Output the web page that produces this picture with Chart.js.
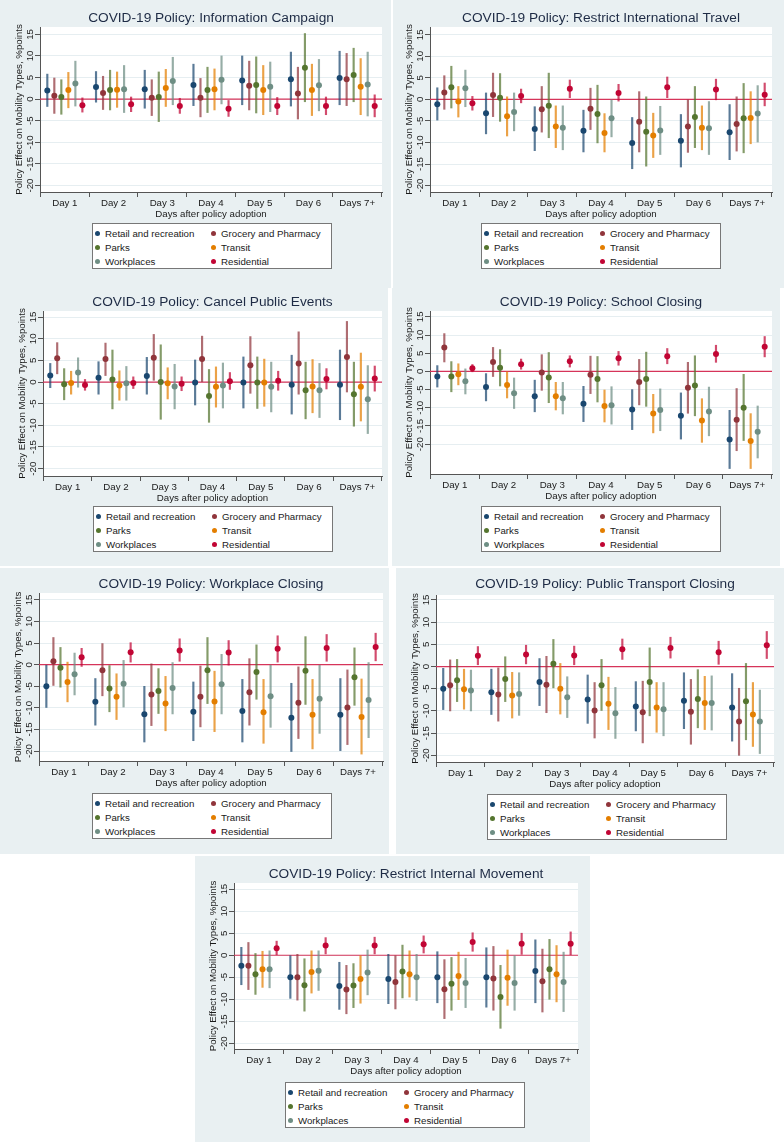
<!DOCTYPE html>
<html>
<head>
<meta charset="utf-8">
<script src="https://cdn.jsdelivr.net/npm/chart.js@4.4.1/dist/chart.umd.min.js"></script>
<style>
  body { margin: 0; background: #fff; width: 784px; height: 1142px; position: relative; overflow: hidden;
         font-family: "Liberation Sans", Arial, sans-serif; }
  .panel { position: absolute; background: #e9f0f2; }
  .panel canvas { position: absolute; left: 0; top: 0; }
  .legend { position: absolute; width: 240px; height: 46px; background: #fff; border: 1px solid #777;
            box-sizing: border-box; padding-top: 2px; display: grid; grid-template-columns: 116px 1fr;
            grid-auto-rows: 14px; font-size: 9.7px; color: #1a1a1a; }
  .legend span { display: flex; align-items: center; white-space: nowrap; }
  .legend i { display: inline-block; width: 5px; height: 5px; border-radius: 50%; margin: 0 5px 0 2px; }
</style>
</head>
<body>
<script>
// ---- data ----
const dayLabels = ['Day 1', 'Day 2', 'Day 3', 'Day 4', 'Day 5', 'Day 6', 'Days 7+'];
const dayTicks = [1, 2, 3, 4, 5, 6, 7];
const yTicks = [-20, -15, -10, -5, 0, 5, 10, 15];
const seriesNames = ['Retail and recreation', 'Grocery and Pharmacy', 'Parks', 'Transit', 'Workplaces', 'Residential'];
const policyTitles = [
  'COVID-19 Policy: Information Campaign',
  'COVID-19 Policy: Restrict International Travel',
  'COVID-19 Policy: Cancel Public Events',
  'COVID-19 Policy: School Closing',
  'COVID-19 Policy: Workplace Closing',
  'COVID-19 Policy: Public Transport Closing',
  'COVID-19 Policy: Restrict Internal Movement'
];

// rows: retail, grocery, parks, transit, workplaces, residential; columns: day 1..7+
const infoEst = [
  [2.0, 2.8, 2.3, 3.3, 4.3, 4.6, 4.9],
  [0.8, 1.4, 0.3, 0.3, 3.1, 1.3, 4.6],
  [0.5, 2.1, 0.5, 2.1, 3.3, 7.3, 5.6],
  [2.1, 2.2, 2.6, 2.3, 2.1, 2.1, 2.9],
  [3.6, 2.3, 4.2, 4.5, 2.9, 3.2, 3.4],
  [-1.4, -1.2, -1.6, -2.2, -1.6, -1.6, -1.6]
];
const infoLo = [
  [-1.7, -0.7, -2.1, -1.5, -1.3, -1.6, -1.3],
  [-3.3, -2.4, -3.8, -4.1, -2.5, -4.6, -1.5],
  [-3.5, -2.5, -5.2, -3.1, -3.2, -0.6, -0.6],
  [-2.0, -1.9, -1.7, -2.5, -3.6, -3.8, -3.6],
  [-1.6, -3.1, -1.3, -1.1, -2.9, -2.7, -3.9],
  [-3.0, -2.9, -3.3, -4.0, -3.6, -3.6, -4.1]
];
const infoHi = [
  [5.8, 6.4, 6.7, 8.1, 10.0, 10.9, 11.1],
  [4.9, 5.3, 4.5, 4.8, 8.8, 7.4, 10.6],
  [4.5, 6.7, 6.3, 7.4, 9.8, 15.2, 11.8],
  [6.2, 6.3, 6.9, 7.0, 7.8, 8.1, 9.4],
  [8.8, 7.8, 9.7, 10.0, 8.6, 9.2, 10.9],
  [0.3, 0.5, 0.2, -0.3, 0.4, 0.5, 1.0]
];

const travelEst = [
  [-1.1, -3.2, -6.9, -7.3, -10.1, -9.6, -7.6],
  [1.6, 1.0, -2.3, -2.2, -5.2, -6.3, -5.7],
  [2.8, 0.4, -1.5, -3.4, -7.5, -4.1, -4.4],
  [-0.5, -3.9, -6.3, -7.8, -8.4, -6.6, -4.3],
  [2.6, -2.9, -6.6, -4.4, -7.2, -6.7, -3.3],
  [-0.9, 0.8, 2.5, 1.5, 2.8, 2.3, 1.1]
];
const travelLo = [
  [-4.8, -8.0, -11.9, -12.2, -16.1, -15.7, -14.0],
  [-2.3, -4.0, -7.6, -7.0, -12.2, -12.3, -12.0],
  [-2.0, -5.1, -8.9, -10.1, -15.5, -11.2, -12.4],
  [-4.1, -8.5, -11.2, -12.2, -13.5, -11.7, -10.3],
  [-1.7, -7.3, -11.7, -8.7, -12.8, -12.8, -9.9],
  [-2.5, -0.8, 0.4, -0.4, 0.4, -0.1, -1.5]
];
const travelHi = [
  [2.7, 1.5, -1.7, -2.5, -4.2, -3.5, -1.2],
  [5.5, 6.1, 3.0, 2.6, 1.8, 0.0, 0.6],
  [7.7, 6.0, 6.1, 3.3, 0.6, 3.0, 3.7],
  [3.0, 0.6, -1.5, -3.3, -3.2, -1.5, 1.8],
  [6.8, 1.5, -1.5, 0.0, -1.6, -0.5, 3.2],
  [0.7, 2.4, 4.5, 3.5, 5.2, 4.7, 3.8]
];

const eventsEst = [
  [1.5, 1.0, 1.4, -0.1, -0.1, -0.6, -0.6],
  [5.5, 5.3, 5.6, 5.3, 3.9, 4.3, 5.8],
  [-0.5, 0.6, 0.0, -3.2, -0.1, -1.9, -2.8],
  [-0.2, -0.8, -0.3, -1.1, -0.1, -1.0, -1.1],
  [2.2, -0.3, -1.0, -0.8, -1.1, -1.9, -4.0],
  [-0.7, -0.2, -0.4, 0.2, 0.3, 0.7, 0.8]
];
const eventsLo = [
  [-1.3, -2.8, -2.8, -5.3, -6.0, -7.4, -8.7],
  [1.9, 1.5, 0.4, 0.1, -2.6, -2.8, -2.3],
  [-4.1, -6.2, -8.6, -9.3, -6.1, -8.5, -10.2],
  [-2.8, -4.2, -3.9, -5.8, -5.6, -7.1, -9.0],
  [-1.2, -4.2, -6.2, -6.0, -6.9, -8.2, -11.9],
  [-1.9, -1.5, -2.0, -1.7, -1.9, -1.6, -2.1]
];
const eventsHi = [
  [4.3, 4.7, 5.7, 5.1, 5.8, 6.2, 7.4],
  [9.1, 9.0, 11.0, 10.6, 10.5, 11.6, 14.0],
  [3.1, 7.4, 8.6, 2.9, 5.8, 4.6, 4.6],
  [2.5, 2.6, 3.3, 3.5, 5.3, 5.2, 6.7],
  [5.6, 3.6, 4.1, 4.4, 4.6, 4.3, 3.8],
  [0.6, 1.2, 1.2, 2.2, 2.5, 3.1, 3.7]
];

const schoolEst = [
  [-1.4, -4.3, -6.8, -8.9, -10.5, -12.2, -18.7],
  [6.6, 2.6, -0.3, -0.9, -2.9, -4.5, -13.3],
  [-1.4, 1.0, -1.7, -2.1, -2.1, -3.9, -10.0],
  [-0.8, -3.7, -6.8, -9.5, -11.6, -13.5, -19.1],
  [-2.7, -6.0, -7.4, -9.3, -10.6, -11.0, -16.6],
  [0.9, 2.0, 2.8, 3.6, 4.2, 4.8, 6.8]
];
const schoolLo = [
  [-4.3, -8.1, -11.1, -13.8, -16.0, -18.6, -26.7],
  [2.6, -1.4, -5.2, -6.1, -9.2, -11.5, -21.8],
  [-5.6, -4.0, -8.6, -8.4, -9.6, -12.2, -19.0],
  [-3.7, -7.3, -10.6, -13.9, -16.9, -19.5, -26.7],
  [-6.2, -10.2, -11.7, -14.5, -16.3, -17.7, -23.8],
  [-0.1, 0.6, 1.2, 1.7, 2.1, 2.5, 4.0]
];
const schoolHi = [
  [1.6, -0.6, -2.4, -4.1, -5.0, -5.9, -10.7],
  [10.4, 6.6, 4.6, 4.2, 3.3, 2.5, -4.7],
  [2.7, 6.0, 5.2, 4.1, 5.3, 4.3, -0.8],
  [2.1, -0.1, -3.0, -5.1, -6.3, -7.5, -11.6],
  [0.7, -1.8, -3.0, -4.2, -4.8, -4.3, -9.5],
  [1.9, 3.4, 4.3, 5.5, 6.3, 7.2, 9.6]
];

const workEst = [
  [-5.0, -8.6, -11.5, -10.9, -10.7, -12.3, -11.6],
  [0.8, -1.3, -6.9, -7.4, -6.4, -8.8, -9.9],
  [-0.7, -5.5, -6.1, -1.3, -1.7, -1.4, -2.9],
  [-4.0, -7.4, -9.0, -8.5, -11.0, -11.6, -12.1],
  [-2.2, -4.4, -5.4, -4.5, -7.3, -7.9, -8.2],
  [1.7, 2.9, 3.3, 2.8, 3.7, 3.9, 4.1]
];
const workLo = [
  [-9.9, -14.0, -17.9, -17.6, -17.9, -20.1, -19.9],
  [-4.8, -7.2, -14.1, -14.4, -14.0, -17.1, -18.5],
  [-5.2, -10.9, -11.3, -9.0, -8.0, -9.2, -9.4],
  [-8.6, -12.7, -15.3, -15.5, -18.2, -19.5, -20.7],
  [-7.0, -9.8, -11.4, -11.4, -14.5, -15.9, -16.9],
  [-0.4, 0.6, 0.8, -0.1, 0.6, 0.8, 0.9]
];
const workHi = [
  [0.0, -3.2, -5.0, -4.0, -3.4, -4.3, -3.2],
  [6.3, 4.9, 0.2, -0.3, 1.4, -0.5, -1.2],
  [4.0, -0.2, -0.9, 6.3, 4.6, 6.5, 3.9],
  [0.6, -2.1, -2.7, -1.5, -3.4, -3.4, -3.3],
  [2.7, 1.0, 0.5, 2.4, -0.1, 0.0, 0.5],
  [3.8, 5.1, 6.0, 5.6, 6.7, 7.0, 7.3]
];

const transportEst = [
  [-5.0, -5.8, -3.5, -7.4, -9.0, -7.7, -9.2],
  [-4.2, -6.3, -4.1, -9.9, -10.3, -10.2, -12.4],
  [-3.1, -2.8, 0.6, -4.2, -3.5, -7.3, -7.8],
  [-5.1, -6.5, -5.0, -8.4, -9.2, -8.2, -10.8],
  [-5.4, -6.2, -6.9, -10.5, -9.6, -8.2, -12.4],
  [2.4, 2.7, 2.5, 3.9, 4.2, 3.2, 4.8]
];
const transportLo = [
  [-9.7, -10.8, -8.8, -12.8, -14.5, -14.0, -16.8],
  [-10.0, -12.3, -10.4, -16.1, -17.2, -17.5, -20.0],
  [-7.9, -7.9, -4.8, -9.9, -11.1, -13.8, -16.5],
  [-9.6, -11.6, -10.7, -14.2, -14.8, -14.2, -18.0],
  [-10.0, -11.0, -11.5, -16.2, -15.6, -14.3, -19.6],
  [0.4, 0.6, 0.4, 1.6, 1.9, 0.5, 1.8]
];
const transportHi = [
  [-0.4, -0.6, 1.8, -1.9, -3.4, -1.4, -1.6],
  [1.5, -0.3, 2.3, -3.6, -3.3, -2.9, -4.9],
  [1.6, 2.2, 6.1, 1.6, 4.2, -0.7, 0.7],
  [-0.6, -1.3, 0.7, -2.4, -3.6, -2.2, -3.6],
  [-0.8, -1.4, -2.3, -4.7, -3.6, -2.1, -5.3],
  [4.5, 4.8, 4.6, 6.2, 6.6, 5.7, 7.9]
];

const internalEst = [
  [-2.4, -5.0, -7.0, -5.4, -5.0, -5.0, -3.6],
  [-2.4, -5.0, -7.8, -6.1, -7.7, -5.3, -5.9],
  [-4.3, -6.8, -6.9, -3.7, -6.5, -9.5, -3.2],
  [-3.2, -3.8, -5.4, -4.3, -4.7, -5.1, -4.3],
  [-3.2, -3.5, -3.9, -5.0, -6.3, -6.3, -6.1],
  [1.6, 2.2, 2.2, 2.5, 3.0, 2.6, 2.6]
];
const internalLo = [
  [-6.7, -9.8, -12.3, -11.0, -10.8, -11.8, -10.8],
  [-7.8, -10.2, -13.3, -12.2, -14.4, -12.5, -12.9],
  [-8.9, -12.7, -11.9, -9.7, -12.5, -16.6, -10.0],
  [-7.3, -8.6, -10.9, -9.5, -10.1, -11.4, -10.6],
  [-7.4, -8.0, -9.0, -10.3, -11.9, -12.5, -12.8],
  [0.0, 0.3, 0.3, 0.5, 0.9, 0.2, 0.0]
];
const internalHi = [
  [1.8, -0.1, -1.6, 0.2, 0.8, 1.7, 3.5],
  [2.9, 0.2, -2.3, 0.0, -1.0, 2.0, 1.4],
  [0.4, -0.8, -1.9, 2.3, -0.5, -2.3, 3.6],
  [0.9, 1.0, 0.0, 1.0, 0.7, 1.2, 2.2],
  [1.0, 1.0, 1.2, 0.2, -0.7, 0.0, 0.7],
  [3.2, 4.0, 4.1, 4.4, 5.1, 5.0, 5.3]
];

// ---- styling / layout ----
const seriesColors = ['#1a476f', '#90353b', '#55752f', '#e37e00', '#6e8e84', '#c10534'];
const seriesOffsets = [-0.36, -0.216, -0.072, 0.072, 0.216, 0.36];
const zeroColor = '#d6345a';
const FONT = '"Liberation Sans", Arial, sans-serif';
const X_AXIS_H = 30;
const X_MIN = 0.49, X_MAX = 7.51;

const panelData = [
  [infoEst, infoLo, infoHi],
  [travelEst, travelLo, travelHi],
  [eventsEst, eventsLo, eventsHi],
  [schoolEst, schoolLo, schoolHi],
  [workEst, workLo, workHi],
  [transportEst, transportLo, transportHi],
  [internalEst, internalLo, internalHi]
];

const panelLayout = [
  {x: 0,   y: 0,   w: 391, h: 288, plotL: 40,  plotR: 382, plotT: 27,  plotB: 192,  titleY: 18,  legL: 92,  legT: 223,  yMin: -21.5, yMax: 16.7},
  {x: 393, y: 0,   w: 391, h: 288, plotL: 430, plotR: 772, plotT: 27,  plotB: 192,  titleY: 18,  legL: 481, legT: 223,  yMin: -21.5, yMax: 16.8},
  {x: 0,   y: 288, w: 388, h: 278, plotL: 43,  plotR: 382, plotT: 311, plotB: 476,  titleY: 302, legL: 93,  legT: 506,  yMin: -21.7, yMax: 16.4},
  {x: 392, y: 288, w: 388, h: 278, plotL: 430, plotR: 772, plotT: 311, plotB: 474,  titleY: 302, legL: 481, legT: 506,  yMin: -28.2, yMax: 16.6},
  {x: 0,   y: 568, w: 389, h: 286, plotL: 39,  plotR: 383, plotT: 593, plotB: 761,  titleY: 584, legL: 92,  legT: 793,  yMin: -22.3, yMax: 16.6},
  {x: 396, y: 568, w: 388, h: 286, plotL: 436, plotR: 774, plotT: 595, plotB: 762,  titleY: 584, legL: 487, legT: 794,  yMin: -21.5, yMax: 16.1},
  {x: 195, y: 856, w: 395, h: 286, plotL: 234, plotR: 578, plotT: 883, plotB: 1049, titleY: 874, legL: 285, legT: 1082, yMin: -21.3, yMax: 16.4}
];

function fade(hex, a) {
  const n = parseInt(hex.slice(1), 16);
  return `rgba(${(n >> 16) & 255},${(n >> 8) & 255},${n & 255},${a})`;
}

// white plot region like Stata's plotregion
const plotBackground = {
  id: 'plotBackground',
  beforeDraw(chart) {
    const {ctx, chartArea: a} = chart;
    ctx.save();
    ctx.fillStyle = '#fff';
    ctx.fillRect(a.left, a.top, a.right - a.left, a.bottom - a.top);
    ctx.restore();
  }
};

function buildDatasets(est, lo, hi) {
  const sets = [];
  seriesNames.forEach((name, s) => {
    sets.push({
      type: 'scatter',
      label: name,
      data: dayTicks.map((d, i) => ({x: d + seriesOffsets[s], y: est[s][i]})),
      backgroundColor: seriesColors[s],
      borderWidth: 0,
      pointRadius: 3,
      order: 0
    });
    sets.push({
      type: 'bar',
      label: name + ' CI',
      data: dayTicks.map((d, i) => ({x: d + seriesOffsets[s], y: [lo[s][i], hi[s][i]]})),
      backgroundColor: fade(seriesColors[s], 0.72),
      borderWidth: 0,
      barThickness: 1.5,
      maxBarThickness: 1.5,
      grouped: false,
      order: 1
    });
  });
  // reference line at zero
  sets.push({
    type: 'line',
    label: 'zero',
    data: [{x: X_MIN, y: 0}, {x: X_MAX, y: 0}],
    borderColor: zeroColor,
    borderWidth: 1.2,
    pointRadius: 0,
    order: 2
  });
  return sets;
}

function makePanel(p, k) {
  const div = document.createElement('div');
  div.className = 'panel';
  Object.assign(div.style, {left: p.x + 'px', top: p.y + 'px', width: p.w + 'px', height: p.h + 'px'});
  document.body.appendChild(div);

  const canvas = document.createElement('canvas');
  canvas.width = p.w;
  canvas.height = p.plotB - p.y + X_AXIS_H;
  div.appendChild(canvas);

  const [est, lo, hi] = panelData[k];
  const yAxisW = p.plotL - p.x;

  new Chart(canvas, {
    type: 'scatter',
    data: {datasets: buildDatasets(est, lo, hi)},
    options: {
      responsive: false,
      animation: false,
      events: [],
      layout: {padding: {left: 0, top: 0, bottom: 0, right: p.x + p.w - p.plotR}},
      plugins: {
        legend: {display: false},
        tooltip: {enabled: false},
        title: {
          display: true,
          text: policyTitles[k],
          fullSize: false,
          color: '#1e2b45',
          font: {family: FONT, size: 13.7, weight: 'normal', lineHeight: 1.2},
          padding: {top: p.titleY - p.y - 8.2, bottom: p.plotT - p.titleY - 8.2}
        }
      },
      scales: {
        x: {
          type: 'linear',
          min: X_MIN,
          max: X_MAX,
          offset: false,
          afterBuildTicks: ax => { ax.ticks = dayTicks.map(v => ({value: v})); },
          afterFit: ax => { ax.height = X_AXIS_H; },
          grid: {drawOnChartArea: false, tickColor: '#555', tickLength: 5},
          border: {color: '#555', width: 1},
          ticks: {
            autoSkip: false, maxRotation: 0, padding: 1, color: '#1a1a1a',
            font: {family: FONT, size: 9.7},
            callback: v => dayLabels[dayTicks.indexOf(v)]
          },
          title: {
            display: true, text: 'Days after policy adoption', color: '#1a1a1a',
            font: {family: FONT, size: 9.7}, padding: {top: 0, bottom: 2}
          }
        },
        y: {
          type: 'linear',
          min: p.yMin,
          max: p.yMax,
          afterBuildTicks: ax => { ax.ticks = yTicks.map(v => ({value: v})); },
          afterFit: ax => { ax.width = yAxisW; },
          grid: {color: '#e6eef1', lineWidth: 1, tickColor: '#555', tickLength: 5},
          border: {color: '#555', width: 1},
          ticks: {
            minRotation: 90, maxRotation: 90, crossAlign: 'center', padding: -2,
            color: '#1a1a1a', font: {family: FONT, size: 9.7}
          },
          title: {
            display: true, text: 'Policy Effect on Mobility Types, %points', color: '#1a1a1a',
            font: {family: FONT, size: 9.7}, padding: {top: yAxisW - 21 - 5.8, bottom: 0}
          }
        }
      }
    },
    plugins: [plotBackground]
  });

  const leg = document.createElement('div');
  leg.className = 'legend';
  leg.style.left = (p.legL - p.x) + 'px';
  leg.style.top = (p.legT - p.y) + 'px';
  seriesNames.forEach((name, s) => {
    const item = document.createElement('span');
    const dot = document.createElement('i');
    dot.style.background = seriesColors[s];
    item.appendChild(dot);
    item.appendChild(document.createTextNode(name));
    leg.appendChild(item);
  });
  div.appendChild(leg);
}

panelLayout.forEach(makePanel);
</script>
</body>
</html>
